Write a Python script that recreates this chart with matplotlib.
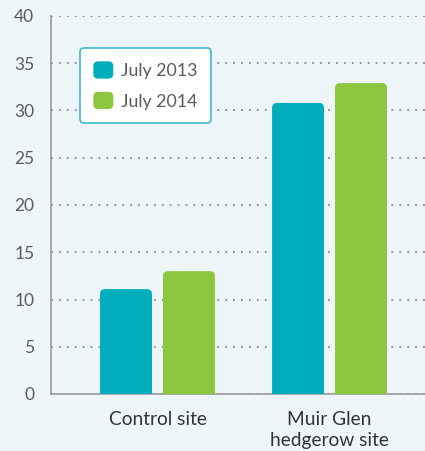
import matplotlib
matplotlib.use("Agg")
import matplotlib.pyplot as plt
from matplotlib.patches import FancyBboxPatch
from matplotlib.legend_handler import HandlerPatch

# Data
sites = ["Control site", "Muir Glen\nhedgerow site"]
july_2013 = [11.1, 30.8]
july_2014 = [13.0, 32.9]
series_labels = ["July 2013", "July 2014"]
y_ticks = [0, 5, 10, 15, 20, 25, 30, 35, 40]

# Style
BG = "#EEF6F9"
TEAL = "#00AEBB"
GREEN = "#8DC63F"
GRAY = "#5C5C5C"
BAR_W = 0.302
OFFSET = 0.183

plt.rcParams["font.family"] = ["Lato", "DejaVu Sans"]

fig = plt.figure(figsize=(4.25, 4.51), dpi=100, facecolor=BG)
ax = fig.add_axes([51 / 425, 57 / 451, 374 / 425, 378 / 451])
ax.set_facecolor(BG)

ax.set_xlim(-0.619, 1.555)
ax.set_ylim(0, 40)
ax.set_yticks(y_ticks)
ax.set_xticks(range(len(sites)))
ax.set_xticklabels(sites, fontsize=13.8, color="#333333", linespacing=1.3)
ax.set_yticklabels([str(t) for t in y_ticks], fontsize=12.5, color=GRAY)
ax.tick_params(axis="y", length=0, pad=12)
ax.tick_params(axis="x", length=0, pad=12)

for s in ["top", "right"]:
    ax.spines[s].set_visible(False)
for s in ["left", "bottom"]:
    ax.spines[s].set_color("#999999")
    ax.spines[s].set_linewidth(1.2)

ax.grid(True, axis="y", color="#999999", linestyle=(0, (0.9, 2.9)), linewidth=1.5)
ax.set_axisbelow(True)

# bars with rounded tops (bottom corners are clipped at y=0)
rx = 5 / 172
ry = 5 / 9.45
for vals, color, dx in [(july_2013, TEAL, -OFFSET), (july_2014, GREEN, OFFSET)]:
    bars = ax.bar([i + dx for i in range(len(sites))], vals, width=BAR_W, alpha=0)
    for b in bars:
        x0, w, h = b.get_x(), b.get_width(), b.get_height()
        patch = FancyBboxPatch(
            (x0, -2), w, h + 2,
            boxstyle=f"round,pad=0,rounding_size={rx}",
            mutation_aspect=ry / rx,
            facecolor=color, edgecolor="none", zorder=3,
        )
        ax.add_patch(patch)


class RoundHandler(HandlerPatch):
    def create_artists(self, legend, orig_handle, xdescent, ydescent,
                       width, height, fontsize, trans):
        p = FancyBboxPatch(
            (-xdescent, -ydescent), width, height,
            boxstyle="round,pad=0,rounding_size=3.5",
            facecolor=orig_handle.get_facecolor(), edgecolor="none",
            transform=trans,
        )
        return [p]


handles = [plt.Rectangle((0, 0), 1, 1, facecolor=TEAL),
           plt.Rectangle((0, 0), 1, 1, facecolor=GREEN)]
leg = ax.legend(
    handles, series_labels,
    handler_map={plt.Rectangle: RoundHandler()},
    loc="upper left", bbox_to_anchor=(29 / 374, 1 - 32 / 378),
    prop={"size": 12.8}, labelcolor=GRAY,
    handlelength=1.12, handleheight=1.12, handletextpad=0.45,
    labelspacing=0.72, borderpad=0.75, borderaxespad=0,
    frameon=True, fancybox=True, facecolor="white", edgecolor="#29B8C8",
    framealpha=1,
)
leg.get_frame().set_linewidth(1.1)
leg.set_zorder(5)

fig.savefig("out.png", dpi=100, facecolor=BG)
